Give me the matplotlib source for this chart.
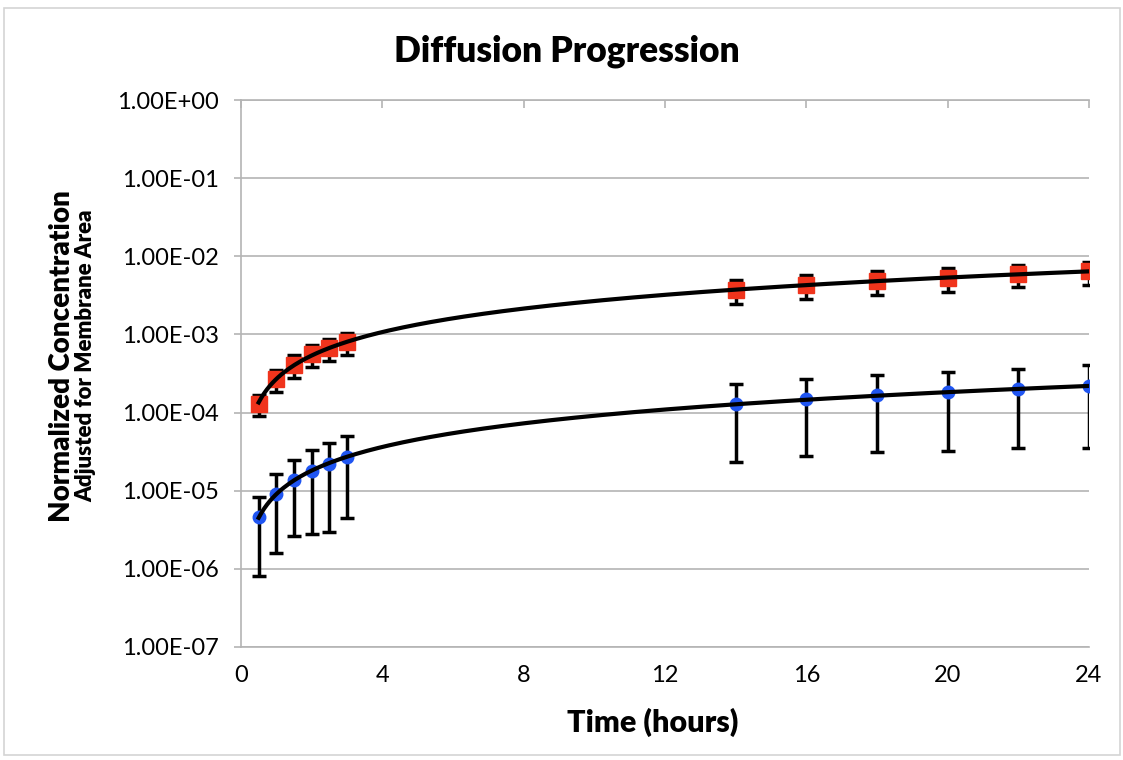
import matplotlib.pyplot as plt
import numpy as np
from matplotlib.ticker import FixedLocator, FuncFormatter, NullLocator
from matplotlib.patches import Rectangle

plt.rcParams['font.family'] = ['Lato', 'DejaVu Sans']

# Data
hours = np.array([0.5, 1, 1.5, 2, 2.5, 3, 14, 16, 18, 20, 22, 24])

red_conc = np.array([1.3e-4, 2.7e-4, 4.1e-4, 5.6e-4, 6.7e-4, 8.0e-4,
                     3.7e-3, 4.3e-3, 4.8e-3, 5.3e-3, 5.9e-3, 6.4e-3])
red_err = np.array([4.0e-5, 8.5e-5, 1.3e-4, 1.8e-4, 2.1e-4, 2.5e-4,
                    1.25e-3, 1.5e-3, 1.6e-3, 1.8e-3, 1.9e-3, 2.1e-3])

blue_conc = np.array([4.6e-6, 9.1e-6, 1.36e-5, 1.78e-5, 2.2e-5, 2.7e-5,
                      1.28e-4, 1.48e-4, 1.66e-4, 1.82e-4, 2.0e-4, 2.2e-4])
blue_err = np.array([3.8e-6, 7.5e-6, 1.1e-5, 1.5e-5, 1.9e-5, 2.25e-5,
                     1.05e-4, 1.2e-4, 1.35e-4, 1.5e-4, 1.65e-4, 1.85e-4])

x_ticks = [0, 4, 8, 12, 16, 20, 24]
y_ticks = [1e-7, 1e-6, 1e-5, 1e-4, 1e-3, 1e-2, 1e-1, 1e0]

grid_color = '#b4b4b4'

fig = plt.figure(figsize=(11.23, 7.6), dpi=100)
ax = fig.add_axes([0.2146, 0.1487, 0.7551, 0.7197])

# outer chart border
fig.patches.append(Rectangle((0.004, 0.006), 0.993, 0.984, transform=fig.transFigure,
                             fill=False, edgecolor='#d4d4d4', linewidth=1.2))


def power_fit(x, y):
    # Excel-style power trendline: y = a * x^b
    b, log_a = np.polyfit(np.log(x), np.log(y), 1)
    xs = np.linspace(x.min(), x.max(), 300)
    return xs, np.exp(log_a) * xs ** b


for conc, err, marker, color, ms in [
        (red_conc, red_err, 's', '#f0341c', 11),
        (blue_conc, blue_err, 'o', '#1f55f2', 9)]:
    ax.errorbar(hours, conc, yerr=err, fmt='none', ecolor='black',
                elinewidth=2.5, capsize=5, capthick=2.5, zorder=3)
    ax.plot(hours, conc, linestyle='none', marker=marker, markersize=ms,
            color=color, markeredgecolor=color, zorder=4)
    xs, ys = power_fit(hours, conc)
    ax.plot(xs, ys, color='black', linewidth=3, zorder=5)

ax.set_yscale('log')
ax.set_ylim(1e-7, 1e0)
ax.set_xlim(0, 24)

ax.yaxis.set_major_locator(FixedLocator(y_ticks))
ax.yaxis.set_minor_locator(NullLocator())
ax.yaxis.set_major_formatter(FuncFormatter(lambda v, pos: f'{v:.2E}'))
ax.xaxis.set_major_locator(FixedLocator(x_ticks))

ax.grid(axis='y', color=grid_color, linewidth=1.2)
ax.set_axisbelow(True)

for side in ['left', 'top', 'bottom']:
    ax.spines[side].set_color(grid_color)
    ax.spines[side].set_linewidth(1.2)
ax.spines['right'].set_visible(False)

ax.tick_params(axis='y', direction='out', length=5, color=grid_color,
               width=1.2, labelsize=17, pad=11)
ax.tick_params(axis='x', bottom=False, top=True, labelbottom=True,
               labeltop=False, direction='in', length=6, color=grid_color,
               width=1.2, labelsize=17, pad=13)

fig.text(0.505, 0.932, 'Diffusion Progression', ha='center', va='center',
         fontsize=25.5, fontweight='heavy')
ax.set_xlabel('Time (hours)', fontsize=22, fontweight='heavy', labelpad=16,
              x=0.485)

fig.text(0.055, 0.532, 'Normalized Concentration', rotation=90, ha='center',
         va='center', fontsize=20, fontweight='heavy')
fig.text(0.076, 0.532, 'Adjusted for Membrane Area', rotation=90, ha='center',
         va='center', fontsize=16, fontweight='heavy')

fig.savefig('out.png', dpi=100)
